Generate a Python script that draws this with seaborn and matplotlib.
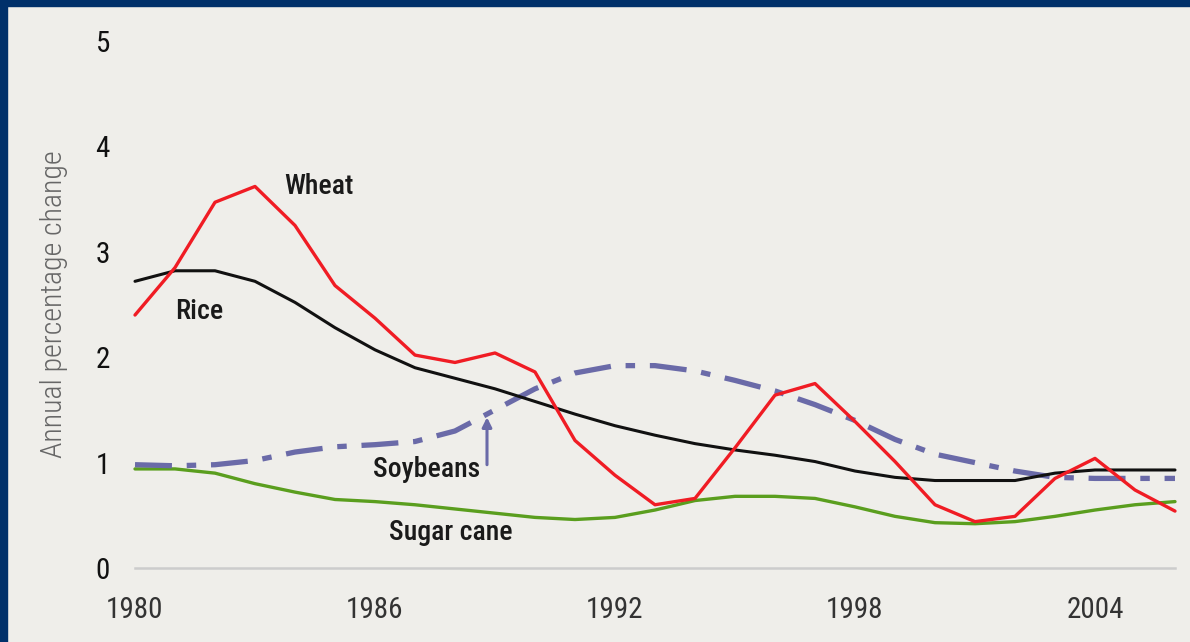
import os
import numpy as np
import pandas as pd
import matplotlib
matplotlib.use("Agg")
import matplotlib.pyplot as plt
from matplotlib import font_manager
from matplotlib.patches import Rectangle
import seaborn as sns

years = list(range(1980, 2007))
wheat = [2.40, 2.85, 3.47, 3.62, 3.25, 2.68, 2.37, 2.02, 1.95, 2.04, 1.86, 1.21, 0.88, 0.60,
         0.66, 1.14, 1.64, 1.75, 1.39, 1.01, 0.60, 0.44, 0.49, 0.85, 1.04, 0.74, 0.54]
rice = [2.72, 2.82, 2.82, 2.72, 2.52, 2.28, 2.07, 1.90, 1.80, 1.70, 1.58, 1.46, 1.35, 1.26,
        1.18, 1.12, 1.07, 1.01, 0.92, 0.86, 0.83, 0.83, 0.83, 0.90, 0.93, 0.93, 0.93]
soybeans = [0.98, 0.97, 0.98, 1.02, 1.10, 1.15, 1.17, 1.20, 1.30, 1.50, 1.70, 1.85, 1.92, 1.92,
            1.87, 1.78, 1.68, 1.55, 1.40, 1.22, 1.08, 1.00, 0.92, 0.86, 0.85, 0.85, 0.85]
sugar_cane = [0.94, 0.94, 0.90, 0.80, 0.72, 0.65, 0.63, 0.60, 0.56, 0.52, 0.48, 0.46, 0.48, 0.55,
              0.64, 0.68, 0.68, 0.66, 0.58, 0.49, 0.43, 0.42, 0.44, 0.49, 0.55, 0.60, 0.63]
x_ticks = [1980, 1986, 1992, 1998, 2004]
y_ticks = [0, 1, 2, 3, 4, 5]

df = pd.DataFrame({"year": years, "Wheat": wheat, "Rice": rice,
                   "Soybeans": soybeans, "Sugar cane": sugar_cane})


# look for a condensed sans face among the installed fonts (fallback: Liberation Sans)
def find_condensed(styles):
    files = sorted(f.fname for f in font_manager.fontManager.ttflist)
    for style in styles:
        for fn in files:
            base = os.path.basename(fn)
            if "CJK" in base or "Mono" in base or "Serif" in base:
                continue
            stem = os.path.splitext(base)[0].replace("_", "-")
            for fam in ("NotoSans", "LiberationSansNarrow", "RobotoCondensed", "OpenSans", "Roboto"):
                if stem in (fam + "-" + style, fam + "-Condensed" + style,
                            fam + "-Condensed-" + style, fam + "Condensed-" + style):
                    if "Condensed" in stem or "Narrow" in stem:
                        return font_manager.FontProperties(fname=fn)
    return None


fp_reg = find_condensed(["Regular", "Condensed"]) or font_manager.FontProperties(family="Liberation Sans")
fp_light = find_condensed(["Light", "Regular", "Condensed"]) or font_manager.FontProperties(family="Liberation Sans")
fp_bold = find_condensed(["SemiBold", "Medium", "Bold"]) or font_manager.FontProperties(family="Liberation Sans")

bg = "#efeeea"
sns.set_style("white")
plt.rcParams["font.family"] = ["Liberation Sans", "DejaVu Sans"]

fig = plt.figure(figsize=(11.9, 6.42), dpi=100, facecolor=bg)
ax = fig.add_axes([135 / 1190, 74 / 642, 1040 / 1190, 527 / 642])
ax.set_facecolor(bg)

# navy frame on top and left edges
fig.patches.append(Rectangle((0, 1 - 6 / 642), 1, 6 / 642, transform=fig.transFigure,
                             color="#00306a", zorder=10))
fig.patches.append(Rectangle((0, 0), 7 / 1190, 1, transform=fig.transFigure,
                             color="#00306a", zorder=10))

sns.lineplot(data=df, x="year", y="Sugar cane", color="#5a9e1e", lw=2.4, ax=ax, clip_on=False)
sns.lineplot(data=df, x="year", y="Soybeans", color="#6a6aa8", lw=3.8, ax=ax, clip_on=False,
             dashes=False)
ax.lines[-1].set_dashes([7, 2.8, 1.8, 2.8])
ax.lines[-1].set_dash_capstyle("butt")
sns.lineplot(data=df, x="year", y="Rice", color="#111111", lw=2.2, ax=ax, clip_on=False)
sns.lineplot(data=df, x="year", y="Wheat", color="#f01c24", lw=2.4, ax=ax, clip_on=False)

ax.set_xlim(1980, 2006)
ax.set_ylim(0, 5)
ax.set_xticks(x_ticks)
ax.set_yticks(y_ticks)
ax.tick_params(axis="x", length=0, pad=20, labelcolor="#333333")
ax.tick_params(axis="y", length=0, pad=18, labelcolor="#111111")
for t in ax.get_xticklabels() + ax.get_yticklabels():
    t.set_fontproperties(fp_reg)
    t.set_fontsize(21)
for s in ["top", "right", "left"]:
    ax.spines[s].set_visible(False)
ax.spines["bottom"].set_color("#cccccc")
ax.spines["bottom"].set_linewidth(1.8)
ax.set_xlabel("")
ax.set_ylabel("Annual percentage change", fontproperties=fp_light, fontsize=21.5,
              color="#666666", labelpad=20)

lab = dict(color="#1a1a1a", ha="center", va="center", fontproperties=fp_bold)
for txt, xx, yy in [("Wheat", 1984.6, 3.62), ("Rice", 1981.6, 2.43),
                    ("Soybeans", 1987.3, 0.93), ("Sugar cane", 1987.9, 0.34)]:
    t = ax.text(xx, yy, txt, **lab)
    t.set_fontsize(20)
ax.annotate("", xy=(1988.8, 1.43), xytext=(1988.8, 0.98),
            arrowprops=dict(arrowstyle="-|>", color="#6a6aa8", lw=2.2, mutation_scale=14,
                            shrinkA=0, shrinkB=0))

fig.savefig("out.png", dpi=100, facecolor=bg)
